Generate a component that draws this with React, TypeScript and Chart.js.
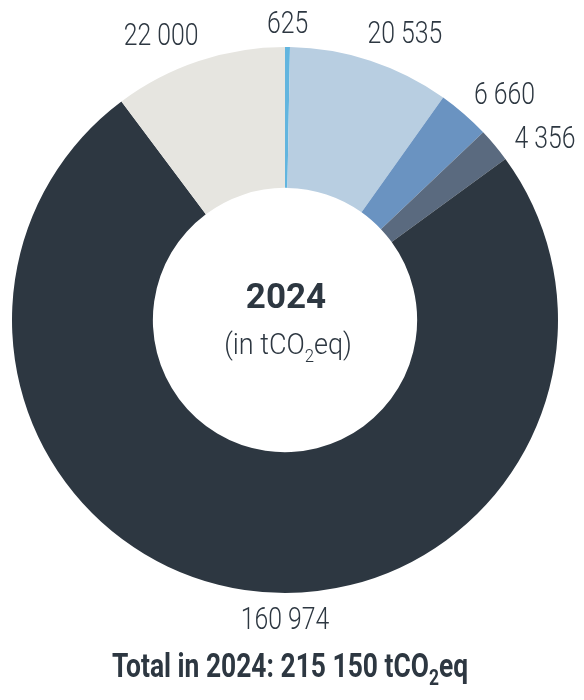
import React, { useEffect, useRef } from "react";
import { Chart, registerables } from "chart.js";

Chart.register(...registerables);

// ---- data (clockwise from the top) ----
const categories = ["Category A", "Category B", "Category C", "Category D", "Category E", "Category F"];
const values = [625, 20535, 6660, 4356, 160974, 22000];
const colors = ["#62b5df", "#b8cee1", "#6a93c1", "#5a6a7f", "#2d3741", "#e6e5e0"];
const centerYear = "2024";
const totalValue = 215150;

const fmt = (n: number) => n.toString().replace(/\B(?=(\d{3})+(?!\d))/g, " ");

type Part = { text: string; sub?: boolean };

function drawRich(
  ctx: CanvasRenderingContext2D,
  parts: Part[],
  cx: number,
  baseline: number,
  size: number,
  weight: number,
  sx: number,
  color: string,
  subScale = 0.62,
  subDrop = 0.26
) {
  const fontFor = (s: number) => `${weight} ${s}px Roboto, "Noto Sans", sans-serif`;
  let total = 0;
  const widths = parts.map((p) => {
    ctx.font = fontFor(p.sub ? size * subScale : size);
    const w = ctx.measureText(p.text).width;
    total += w;
    return w;
  });
  ctx.save();
  ctx.translate(cx, baseline);
  ctx.scale(sx, 1);
  ctx.fillStyle = color;
  ctx.textAlign = "left";
  ctx.textBaseline = "alphabetic";
  let x = -total / 2;
  parts.forEach((p, i) => {
    ctx.font = fontFor(p.sub ? size * subScale : size);
    ctx.fillText(p.text, x, p.sub ? size * subDrop : 0);
    x += widths[i];
  });
  ctx.restore();
  return total * sx;
}

const annotPlugin = {
  id: "annot",
  afterDraw(chart: any, _args: any, opts: any) {
    const ctx: CanvasRenderingContext2D = chart.ctx;
    const meta = chart.getDatasetMeta(0);
    const textColor = "#2d3741";
    let cx = 0;
    let cy = 0;
    let outer = 0;
    let inner = 0;
    meta.data.forEach((arc: any, i: number) => {
      const p = arc.getProps(["startAngle", "endAngle", "outerRadius", "innerRadius", "x", "y"], true);
      cx = p.x;
      cy = p.y;
      outer = p.outerRadius;
      inner = p.innerRadius;
      const mid = (p.startAngle + p.endAngle) / 2 + ((opts.shift[i] || 0) * Math.PI) / 180;
      const dx = Math.cos(mid);
      const dy = Math.sin(mid);
      const size = opts.labelSize;
      const text = fmt(values[i]);
      ctx.font = `300 ${size}px Roboto`;
      const w = ctx.measureText(text).width * opts.labelScale;
      const h = size * 0.711;
      const ext = Math.abs(dx) * (w / 2) + Math.abs(dy) * (h / 2);
      const dist = p.outerRadius + opts.gap + ext;
      const lx = p.x + dx * dist;
      const ly = p.y + dy * dist;
      drawRich(ctx, [{ text }], lx, ly + h / 2, size, 300, opts.labelScale, textColor);
    });

    // centre text
    drawRich(ctx, [{ text: centerYear }], cx + 1, cy - 12, 35, 700, 1.0, textColor);
    drawRich(
      ctx,
      [{ text: "(in tCO" }, { text: "2", sub: true }, { text: "eq)" }],
      cx + 3,
      cy + 34,
      30,
      300,
      0.9,
      textColor
    );

    // total line
    drawRich(
      ctx,
      [{ text: `Total in ${centerYear}: ${fmt(totalValue)} tCO` }, { text: "2", sub: true }, { text: "eq" }],
      cx + 5,
      cy + outer + 84,
      33,
      700,
      0.8,
      textColor,
      0.66,
      0.24
    );
  },
};

export default function App() {
  const ref = useRef<HTMLCanvasElement | null>(null);
  useEffect(() => {
    if (!ref.current) return;
    const chart = new Chart(ref.current, {
      type: "doughnut",
      data: {
        labels: categories,
        datasets: [
          {
            data: values,
            backgroundColor: colors,
            borderWidth: 0,
            offset: 0,
            hoverOffset: 0,
          },
        ],
      },
      options: {
        responsive: false,
        animation: false,
        devicePixelRatio: 1,
        cutout: "48.4%",
        rotation: 0,
        layout: { padding: { left: 12, right: 26, top: 47, bottom: 107 } },
        plugins: {
          legend: { display: false },
          tooltip: { enabled: false },
          annot: {
            labelSize: 31,
            labelScale: 0.8,
            gap: 14,
            shift: [0, 4.4, 3, 4.6, -8.5, -5],
          },
        } as any,
      },
      plugins: [annotPlugin],
    });
    return () => chart.destroy();
  }, []);
  return (
    <div style={{ position: "absolute", left: 0, top: 0, width: 584, height: 700, background: "#fff" }}>
      <canvas ref={ref} width={584} height={700} style={{ display: "block" }} />
    </div>
  );
}
